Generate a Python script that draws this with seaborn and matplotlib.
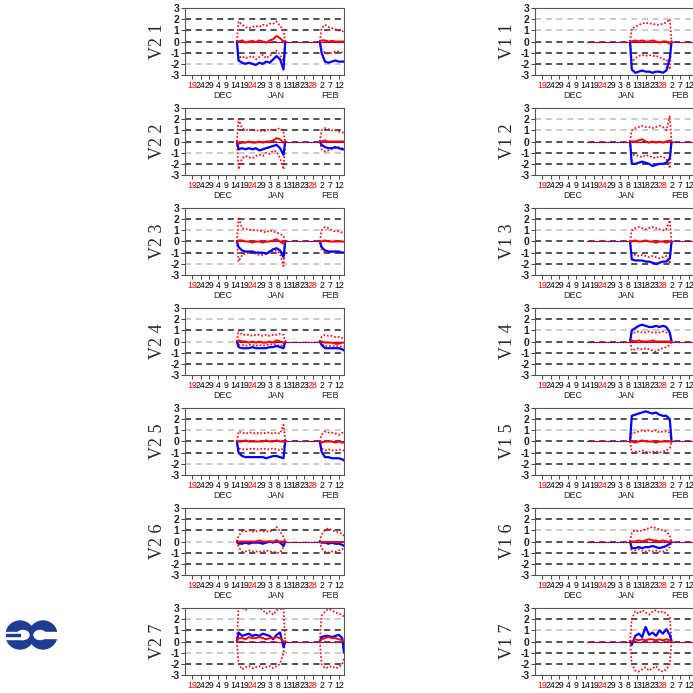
import pandas as pd
import matplotlib.pyplot as plt
import matplotlib.patches as mpatches
import matplotlib.transforms as mtransforms
import seaborn as sns

# -------------------------------
# Data
# -------------------------------
v2_names = ["V2 1", "V2 2", "V2 3", "V2 4", "V2 5", "V2 6", "V2 7"]
v1_names = ["V1 1", "V1 2", "V1 3", "V1 4", "V1 5", "V1 6", "V1 7"]

# V2 first window (Dec-Jan)
v2_dates_a = ["2000-12-15", "2000-12-16", "2000-12-18", "2000-12-20", "2000-12-22",
              "2000-12-24", "2000-12-26", "2000-12-28", "2000-12-30", "2001-01-01",
              "2001-01-03", "2001-01-05", "2001-01-07", "2001-01-09", "2001-01-11",
              "2001-01-12"]
v2_blue_a = [
    [0, -1.7, -1.9, -2.0, -1.9, -2.0, -2.1, -1.9, -2.0, -1.8, -1.9, -1.6, -1.3, -1.6, -2.5, 0],
    [0, -0.7, -0.6, -0.7, -0.6, -0.7, -0.6, -0.8, -0.7, -0.6, -0.5, -0.4, -0.3, -0.6, -1.2, 0],
    [0, -0.5, -0.8, -0.9, -0.9, -0.9, -1.0, -1.0, -1.0, -1.1, -0.9, -0.7, -0.6, -0.8, -1.4, 0],
    [0, -0.5, -0.6, -0.6, -0.6, -0.5, -0.6, -0.6, -0.6, -0.6, -0.5, -0.5, -0.4, -0.5, -0.6, 0],
    [0, -1.0, -1.3, -1.4, -1.4, -1.4, -1.4, -1.4, -1.4, -1.5, -1.4, -1.3, -1.3, -1.4, -1.5, 0],
    [0, -0.2, -0.2, -0.1, -0.2, -0.1, -0.1, -0.1, -0.2, -0.1, 0.0, -0.1, 0.1, -0.1, -0.4, 0],
    [0, 0.8, 0.5, 0.6, 0.7, 0.5, 0.6, 0.5, 0.7, 0.6, 0.5, 0.2, 0.6, 0.8, -0.5, 0],
]
v2_mean_a = [
    [0, 0.0, 0.1, -0.1, 0.0, 0.05, -0.05, 0.1, 0.0, -0.1, 0.1, 0.2, 0.5, 0.3, 0.0, 0],
    [0, -0.2, -0.1, -0.1, 0.0, -0.1, -0.1, 0.0, -0.1, 0.0, 0.0, 0.1, 0.3, 0.2, -0.1, 0],
    [0, 0.1, 0.1, 0.0, 0.0, -0.1, 0.0, 0.0, -0.1, 0.0, 0.0, 0.1, 0.2, 0.0, -0.2, 0],
    [0, 0.1, 0.0, 0.0, -0.1, 0.0, -0.1, 0.0, -0.1, -0.1, 0.0, -0.1, 0.1, 0.0, -0.1, 0],
    [0, 0.0, 0.0, 0.1, 0.0, 0.0, 0.0, 0.0, 0.0, 0.1, 0.0, 0.0, 0.1, 0.0, 0.0, 0],
    [0, 0.0, 0.0, 0.0, 0.0, 0.0, 0.0, 0.1, 0.0, 0.0, 0.0, 0.0, 0.0, 0.0, 0.0, 0],
    [0, 0.3, 0.3, 0.2, 0.4, 0.3, 0.3, 0.4, 0.3, 0.2, 0.3, 0.3, 0.4, 0.3, 0.0, 0],
]
v2_upper_a = [
    [0, 1.8, 1.5, 1.3, 1.2, 1.3, 1.4, 1.3, 1.5, 1.4, 1.6, 1.6, 1.8, 1.4, 1.0, 0],
    [0, 2.0, 1.2, 1.0, 1.1, 1.0, 1.0, 1.0, 0.9, 1.0, 1.1, 1.0, 1.1, 1.2, 0.8, 0],
    [0, 2.2, 1.2, 1.1, 1.1, 1.0, 1.0, 1.0, 0.9, 0.8, 1.0, 0.9, 0.8, 0.7, 0.5, 0],
    [0, 1.0, 0.6, 0.6, 0.6, 0.5, 0.6, 0.6, 0.5, 0.6, 0.5, 0.6, 0.6, 0.7, 0.6, 0],
    [0, 0.9, 0.8, 0.7, 0.8, 0.8, 0.7, 0.8, 0.7, 0.8, 0.8, 0.7, 0.8, 0.7, 1.5, 0],
    [0, 0.5, 0.9, 0.9, 1.0, 0.9, 0.9, 1.0, 0.9, 0.9, 0.9, 1.0, 1.3, 0.9, 0.4, 0],
    [0, 3.2, 3.0, 2.8, 3.1, 3.2, 2.9, 3.0, 2.8, 2.5, 2.7, 2.4, 2.8, 2.9, 3.0, 0],
]
v2_lower_a = [
    [0, -1.5, -1.3, -1.5, -1.4, -1.3, -1.6, -1.4, -1.2, -1.5, -1.3, -1.0, -0.8, -1.2, -1.8, 0],
    [0, -2.5, -1.5, -1.3, -1.4, -1.5, -1.3, -1.2, -1.3, -1.0, -1.1, -0.8, -0.9, -1.5, -2.5, 0],
    [0, -1.8, -1.2, -1.1, -1.0, -1.0, -1.1, -1.2, -1.2, -1.0, -1.0, -0.9, -0.8, -1.1, -2.2, 0],
    [0, -0.3, -0.3, -0.4, -0.3, -0.3, -0.4, -0.3, -0.4, -0.3, -0.3, -0.2, -0.3, -0.4, -0.3, 0],
    [0, -0.6, -0.7, -0.7, -0.7, -0.6, -0.7, -0.7, -0.6, -0.7, -0.7, -0.6, -0.7, -0.8, -0.6, 0],
    [0, -0.5, -0.9, -0.9, -0.8, -0.9, -0.9, -0.9, -0.9, -0.8, -0.9, -0.9, -1.0, -1.0, -0.5, 0],
    [0, -2.0, -2.5, -2.3, -2.2, -2.4, -2.3, -2.2, -2.4, -2.3, -2.2, -2.4, -2.2, -2.0, -1.0, 0],
]

# V2 second window (Feb)
v2_dates_b = ["2001-02-01", "2001-02-02", "2001-02-04", "2001-02-06", "2001-02-08",
              "2001-02-10", "2001-02-12", "2001-02-14", "2001-02-15"]
v2_blue_b = [
    [0, -1.0, -1.8, -1.9, -1.8, -1.7, -1.8, -1.8, -1.8],
    [0, -0.3, -0.5, -0.6, -0.6, -0.5, -0.6, -0.7, -0.7],
    [0, -0.5, -0.8, -0.9, -0.9, -0.9, -0.9, -1.0, -1.0],
    [0, -0.3, -0.6, -0.6, -0.6, -0.6, -0.6, -0.7, -0.8],
    [0, -0.9, -1.4, -1.4, -1.5, -1.5, -1.5, -1.6, -1.7],
    [0, -0.1, -0.1, -0.2, -0.1, -0.2, -0.2, -0.3, -0.4],
    [0, 0.4, 0.5, 0.5, 0.4, 0.5, 0.6, 0.3, -1.0],
]
v2_mean_b = [
    [0, 0.1, 0.1, 0.0, 0.05, 0.0, 0.0, 0.0, 0.0],
    [0, 0.0, 0.1, 0.0, 0.0, 0.0, 0.0, 0.0, 0.0],
    [0, 0.0, 0.1, 0.0, 0.0, 0.0, 0.0, 0.0, 0.0],
    [0, 0.0, -0.1, -0.1, -0.1, -0.2, -0.2, -0.1, -0.1],
    [0, -0.1, 0.0, 0.0, 0.0, -0.1, 0.0, -0.1, -0.1],
    [0, 0.0, 0.0, 0.0, 0.0, 0.0, 0.0, 0.0, 0.0],
    [0, 0.2, 0.3, 0.4, 0.3, 0.3, 0.2, 0.1, 0.0],
]
v2_upper_b = [
    [0, 1.2, 1.5, 1.3, 1.2, 1.1, 1.0, 0.9, 1.0],
    [0, 1.0, 1.2, 1.1, 1.0, 1.0, 0.9, 0.8, 0.8],
    [0, 1.0, 1.3, 1.2, 1.0, 0.9, 0.9, 0.8, 0.7],
    [0, 0.4, 0.6, 0.5, 0.5, 0.4, 0.4, 0.3, 0.3],
    [0, 0.6, 0.9, 0.8, 0.8, 0.7, 0.6, 0.8, 0.7],
    [0, 0.6, 1.0, 1.2, 1.0, 0.9, 0.8, 0.7, 0.5],
    [0, 2.3, 2.7, 2.9, 2.8, 2.6, 2.5, 2.4, 2.2],
]
v2_lower_b = [
    [0, -0.7, -1.0, -1.1, -1.0, -0.9, -0.9, -1.0, -1.0],
    [0, -0.7, -0.9, -0.8, -0.7, -0.6, -0.5, -0.6, -0.6],
    [0, -0.7, -1.0, -1.0, -0.9, -0.9, -1.0, -1.0, -1.0],
    [0, -0.2, -0.4, -0.4, -0.4, -0.4, -0.4, -0.5, -0.5],
    [0, -0.6, -0.8, -0.7, -0.8, -0.8, -0.7, -0.8, -0.8],
    [0, -0.6, -0.9, -1.0, -0.9, -0.9, -0.8, -0.7, -0.5],
    [0, -2.0, -2.4, -2.3, -2.2, -2.4, -2.3, -2.0, -1.5],
]

# V1 window (Jan)
v1_dates = ["2001-01-09", "2001-01-10", "2001-01-12", "2001-01-14", "2001-01-16",
            "2001-01-18", "2001-01-20", "2001-01-22", "2001-01-24", "2001-01-26",
            "2001-01-28", "2001-01-30", "2001-02-01", "2001-02-02"]
v1_blue = [
    [0, -2.5, -2.8, -2.7, -2.6, -2.7, -2.7, -2.8, -2.7, -2.7, -2.8, -2.6, -1.5, 0],
    [0, -2.0, -2.0, -1.9, -1.8, -1.9, -2.0, -2.2, -2.1, -2.0, -2.0, -1.9, -1.5, 0],
    [0, -1.6, -1.7, -1.7, -1.7, -1.8, -1.8, -1.9, -2.0, -1.9, -1.8, -1.8, -1.5, 0],
    [0, 1.0, 1.2, 1.4, 1.5, 1.4, 1.3, 1.3, 1.4, 1.3, 1.4, 1.3, 0.8, 0],
    [0, 2.3, 2.4, 2.5, 2.6, 2.7, 2.6, 2.5, 2.6, 2.4, 2.3, 2.3, 2.0, 0],
    [0, -0.6, -0.6, -0.5, -0.6, -0.5, -0.5, -0.4, -0.5, -0.6, -0.5, -0.4, -0.2, 0],
    [0, -0.3, 0.5, 0.7, 0.4, 1.3, 0.6, 0.8, 0.5, 1.0, 0.7, 1.1, 0.6, 0],
]
v1_mean = [
    [0, 0.0, 0.1, 0.0, 0.1, 0.0, 0.0, 0.1, 0.0, -0.1, 0.0, 0.0, -0.2, 0],
    [0, 0.0, 0.0, 0.1, 0.2, 0.0, -0.1, 0.0, -0.1, 0.0, -0.1, 0.0, 0.1, 0],
    [0, 0.0, 0.1, 0.0, 0.0, 0.1, 0.0, 0.0, -0.1, 0.0, 0.0, -0.1, 0.0, 0],
    [0, 0.1, 0.0, 0.1, 0.0, 0.0, 0.0, 0.1, 0.0, 0.0, 0.0, 0.0, 0.0, 0],
    [0, 0.0, -0.1, 0.0, 0.1, 0.0, 0.0, 0.0, -0.1, 0.0, 0.0, 0.0, 0.0, 0],
    [0, 0.0, 0.0, 0.1, 0.0, 0.1, 0.2, 0.1, 0.1, 0.0, 0.1, 0.0, 0.0, 0],
    [0, 0.0, 0.2, 0.1, 0.2, 0.1, 0.2, 0.2, 0.1, 0.2, 0.1, 0.2, 0.1, 0],
]
v1_upper = [
    [0, 1.2, 1.3, 1.5, 1.6, 1.7, 1.6, 1.6, 1.5, 1.5, 1.6, 1.7, 2.0, 0],
    [0, 1.0, 1.2, 1.3, 1.4, 1.3, 1.3, 1.2, 1.3, 1.4, 1.3, 1.0, 2.3, 0],
    [0, 1.0, 1.2, 1.3, 1.2, 1.1, 1.2, 1.3, 1.2, 1.1, 1.0, 1.1, 1.9, 0],
    [0, 0.8, 0.8, 0.9, 0.8, 0.8, 0.9, 0.8, 0.8, 0.8, 0.9, 0.8, 0.6, 0],
    [0, 0.8, 0.8, 0.9, 1.0, 0.9, 1.0, 0.9, 1.0, 0.8, 0.9, 0.9, 0.8, 0],
    [0, 0.8, 1.0, 0.9, 1.0, 1.1, 1.2, 1.3, 1.2, 1.1, 1.0, 0.9, 0.5, 0],
    [0, 2.0, 2.7, 2.5, 2.8, 2.6, 2.4, 2.7, 2.8, 2.6, 2.7, 2.5, 2.2, 0],
]
v1_lower = [
    [0, -1.8, -1.5, -1.3, -1.2, -1.3, -1.2, -1.3, -1.3, -1.4, -1.6, -1.6, -2.5, 0],
    [0, -1.2, -1.2, -1.3, -1.4, -1.2, -1.3, -1.4, -1.5, -1.3, -1.4, -1.5, -2.4, 0],
    [0, -1.1, -1.2, -1.3, -1.2, -1.3, -1.4, -1.3, -1.4, -1.5, -1.4, -1.3, -2.0, 0],
    [0, -0.8, -0.7, -0.6, -0.7, -0.6, -0.7, -0.8, -0.9, -0.7, -0.6, -0.5, -0.3, 0],
    [0, -1.0, -0.9, -0.9, -0.8, -0.9, -1.0, -0.9, -0.9, -1.0, -0.9, -0.8, -0.6, 0],
    [0, -1.0, -0.8, -0.7, -0.8, -0.9, -0.8, -0.9, -0.8, -0.9, -0.9, -0.8, -0.5, 0],
    [0, -2.0, -2.6, -2.7, -2.5, -2.3, -2.6, -2.4, -2.2, -2.6, -2.7, -2.5, -2.0, 0],
]

# zero line over the whole run
baseline_dates = ["2000-12-15", "2001-02-15"]
baseline_vals = [0, 0]

# grid line colour per level 2,1,0,-1,-2 (k = black, g = grey)
grid_levels = [2, 1, 0, -1, -2]
v2_grid = ["kkkkg", "kkkgk", "kgkkg", "gkgkk", "kgkkg", "kkgkk", "gkkgk"]
v1_grid = ["ggkkk", "ggkkk", "kgkkk", "kgkkk", "kgkkk", "kgkkk", "kgkkk"]

tick_dates = pd.date_range("2000-11-19", "2001-02-12", freq="5D")
month_labels = ["DEC", "JAN", "FEB"]
month_dates = ["2000-12-07", "2001-01-07", "2001-02-07"]

# -------------------------------
# Style
# -------------------------------
sns.set_style("white")
plt.rcParams["font.family"] = ["Liberation Sans", "DejaVu Sans"]

BLUE = "#0000ff"
RED = "#ff0000"
GRID_COLORS = {"k": "#222222", "g": "#bdbdbd"}
DOTS = (0, (1, 1.2))

W = 693
fig = plt.figure(figsize=(6.93, 6.93), dpi=100)


def draw_series(ax, dates, vals, color, lw, ls):
    sns.lineplot(x=pd.to_datetime(dates), y=vals, ax=ax, color=color, lw=lw,
                 linestyle=ls, estimator=None, sort=False, legend=False)


def setup_panel(ax, name, grid_code, show_month=True):
    ax.set_ylim(-3, 3)
    ax.set_xlim(pd.Timestamp("2000-11-15"), pd.Timestamp("2001-02-15"))
    for lev, c in zip(grid_levels, grid_code):
        ax.axhline(lev, color=GRID_COLORS[c], lw=1.1, ls=(0, (4, 3)), zorder=1)
    ax.set_yticks([-3, -2, -1, 0, 1, 2, 3])
    ax.set_yticklabels(["-3", "-2", "-1", "0", "1", "2", "3"],
                       fontsize=7.5, fontweight="bold")
    ax.set_xticks(tick_dates)
    ax.set_xticklabels([str(d.day) for d in tick_dates], fontsize=6.3)
    for lab, d in zip(ax.get_xticklabels(), tick_dates):
        lab.set_color(RED if d.weekday() == 6 else "black")
    ax.tick_params(axis="both", direction="out", length=3, width=0.7,
                   pad=1, left=True, bottom=True, color="#444444")
    for sp in ax.spines.values():
        sp.set_color("#555555")
        sp.set_linewidth(0.8)
    ax.set_xlabel("")
    ax.set_ylabel("")
    ax.text(-0.175, 0.5, name, transform=ax.transAxes, rotation=90,
            ha="center", va="center", fontsize=13,
            family=["Liberation Serif", "DejaVu Serif"])
    if show_month:
        trans = mtransforms.blended_transform_factory(ax.transData, ax.transAxes)
        for lab, d in zip(month_labels, month_dates):
            ax.text(pd.Timestamp(d), -0.31, lab, transform=trans, ha="center",
                    va="center", fontsize=6.5, color="#222222")


# -------------------------------
# Panels
# -------------------------------
for i in range(7):
    top = 8 + 100 * i
    bottom = 1 - (top + 67) / W
    h = 67 / W

    # left column: V2
    ax = fig.add_axes([185 / W, bottom, 159 / W, h])
    draw_series(ax, baseline_dates, baseline_vals, RED, 0.8, "-")
    draw_series(ax, baseline_dates, baseline_vals, BLUE, 0.8, ":")
    for dates, up, lo, mn, bl in [
        (v2_dates_a, v2_upper_a[i], v2_lower_a[i], v2_mean_a[i], v2_blue_a[i]),
        (v2_dates_b, v2_upper_b[i], v2_lower_b[i], v2_mean_b[i], v2_blue_b[i]),
    ]:
        draw_series(ax, dates, up, RED, 1.2, DOTS)
        draw_series(ax, dates, lo, RED, 1.2, DOTS)
        draw_series(ax, dates, bl, BLUE, 1.6, "-")
        draw_series(ax, dates, mn, RED, 1.4, "-")
    setup_panel(ax, v2_names[i], v2_grid[i], show_month=(i < 6))

    # right column: V1
    ax = fig.add_axes([535 / W, bottom, 159 / W, h])
    draw_series(ax, baseline_dates, baseline_vals, RED, 0.8, "-")
    draw_series(ax, baseline_dates, baseline_vals, BLUE, 0.8, ":")
    draw_series(ax, v1_dates, v1_upper[i], RED, 1.2, DOTS)
    draw_series(ax, v1_dates, v1_lower[i], RED, 1.2, DOTS)
    draw_series(ax, v1_dates, v1_blue[i], BLUE, 1.6, "-")
    draw_series(ax, v1_dates, v1_mean[i], RED, 1.4, "-")
    setup_panel(ax, v1_names[i], v1_grid[i], show_month=(i < 6))

# -------------------------------
# Logo (bottom left)
# -------------------------------
NAVY = "#1f3c93"
lax = fig.add_axes([6 / W, 1 - 650 / W, 51 / W, 30 / W])
lax.set_xlim(0, 51)
lax.set_ylim(0, 30)
lax.axis("off")
lax.add_patch(mpatches.Ellipse((14, 15), 28, 28, color=NAVY))
lax.add_patch(mpatches.Ellipse((37, 15), 28, 28, color=NAVY))
lax.add_patch(mpatches.Ellipse((17, 15), 12, 9, color="white"))
lax.add_patch(mpatches.Ellipse((34, 15), 12, 9, color="white"))
lax.add_patch(mpatches.Rectangle((0, 11.5), 17, 7, color="white"))
lax.add_patch(mpatches.Rectangle((0, 14), 14, 2, color=NAVY))
lax.add_patch(mpatches.Rectangle((34, 12), 17, 6, color="white"))

fig.savefig("out.png", dpi=100)
